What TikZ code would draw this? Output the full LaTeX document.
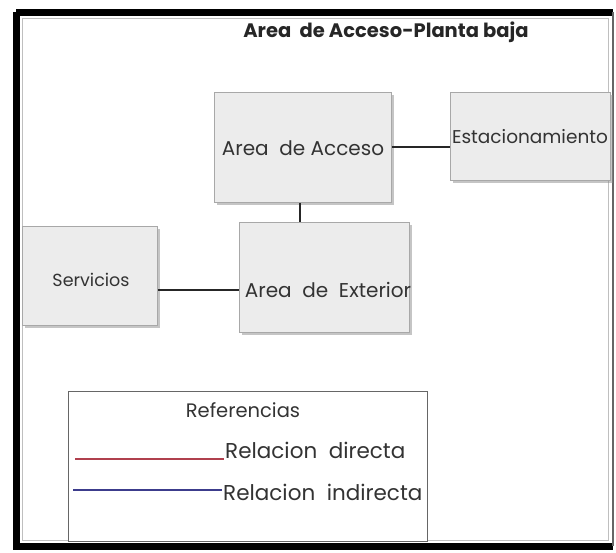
\documentclass[tikz,border=0pt]{standalone}
\usepackage{fontspec}
\setmainfont{Poppins}
\usetikzlibrary{shadows}
\definecolor{boxfill}{HTML}{ECECEC}
\definecolor{boxline}{HTML}{A8A8A8}
\definecolor{reldir}{HTML}{B0404E}
\definecolor{relind}{HTML}{3C3C8C}
\tikzset{
  area/.style={draw=boxline, line width=0.8pt, fill=boxfill,
    drop shadow={shadow xshift=3pt, shadow yshift=-3pt, fill=black!45, opacity=0.5},
    anchor=north west, inner sep=0pt},
  lbl/.style={text=black!80, inner sep=1pt},
  conn/.style={draw=black!85, line width=1.3pt},
}
\newcommand{\fsz}[1]{\fontsize{#1}{#1}\selectfont}
\begin{document}
\begin{tikzpicture}[x=1pt,y=-1pt]
\useasboundingbox (0,0) rectangle (616,552);
\fill[white] (0,0) rectangle (616,552);
% outer frame
\draw[black, line width=7pt] (16,12) -- (613,12) (16,12) -- (16,546) -- (613,546);
\draw[black!60, line width=1.5pt] (613,12) -- (613,546);
\draw[black!25, line width=0.8pt] (22,18) rectangle (608,540);
% title
\node[font=\bfseries\fsz{19.5}, text=black!85] (title) at (386,32) {Area \ de Acceso-Planta baja};
% boxes
\node[area, minimum width=177pt, minimum height=110pt] (acceso) at (214,92) {};
\node[lbl, font=\fsz{20}] at (303,148) {Area \ de Acceso};
\node[area, minimum width=160pt, minimum height=88pt] (estac) at (450,92) {};
\node[lbl, font=\fsz{18.5}] at (530,137) {Estacionamiento};
\node[area, minimum width=135pt, minimum height=99pt] (serv) at (22,226) {};
\node[lbl, font=\fsz{17.5}] at (91,280) {Servicios};
\node[area, minimum width=170pt, minimum height=110pt] (ext) at (239,222) {};
\node[lbl, font=\fsz{20}] at (328,290) {Area \ de \ Exterior};
% connectors
\draw[conn] (acceso.east |- 0,147) -- (estac.west |- 0,147);
\draw[conn] (acceso.south -| 300,0) -- (ext.north -| 300,0);
\draw[conn] (serv.east |- 0,290) -- (ext.west |- 0,290);
% legend
\node[draw=black!60, line width=0.8pt, fill=white, anchor=north west, minimum width=359pt, minimum height=150pt, inner sep=0pt] (legend) at (68,391) {};
\node[lbl, font=\fsz{19.5}] (ref) at (243,410) {Referencias};
\coordinate (r1) at (75,459);
\coordinate (b1) at (73,490);
\node[lbl, font=\fsz{21.5}, anchor=west] (dir) at (224,450) {Relacion \ directa};
\node[lbl, font=\fsz{21.5}, anchor=west] (ind) at (222,492) {Relacion \ indirecta};
\draw[reldir, line width=2.5pt] (r1) -- (dir.west |- r1);
\draw[relind, line width=2.5pt] (b1) -- (ind.west |- b1);
\end{tikzpicture}
\end{document}
